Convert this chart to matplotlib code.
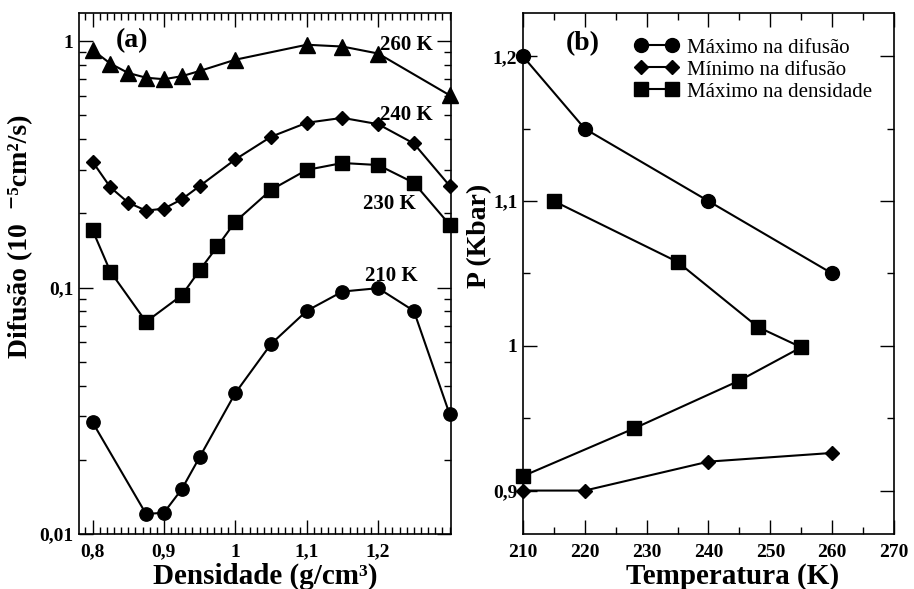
import matplotlib
matplotlib.use("Agg")
import matplotlib.pyplot as plt
from matplotlib.ticker import FixedLocator, MultipleLocator, LogLocator, NullFormatter, FuncFormatter

plt.rcParams['font.family'] = ['Liberation Serif', 'DejaVu Serif']
plt.rcParams['font.weight'] = 'bold'
plt.rcParams['axes.labelweight'] = 'bold'

# (a) difusao x densidade
dens260 = [0.8, 0.825, 0.85, 0.875, 0.9, 0.925, 0.95, 1.0, 1.1, 1.15, 1.2, 1.3]
d260 = [0.92, 0.81, 0.742, 0.71, 0.70, 0.72, 0.756, 0.84, 0.966, 0.95, 0.89, 0.603]

dens240 = [0.8, 0.825, 0.85, 0.875, 0.9, 0.925, 0.95, 1.0, 1.05, 1.1, 1.15, 1.2, 1.25, 1.3]
d240 = [0.324, 0.255, 0.221, 0.205, 0.209, 0.228, 0.258, 0.331, 0.409, 0.466, 0.488, 0.46, 0.384, 0.259]

dens230 = [0.8, 0.825, 0.875, 0.925, 0.95, 0.975, 1.0, 1.05, 1.1, 1.15, 1.2, 1.25, 1.3]
d230 = [0.171, 0.116, 0.0726, 0.093, 0.1175, 0.147, 0.185, 0.249, 0.30, 0.32, 0.314, 0.266, 0.18]

dens210 = [0.8, 0.875, 0.9, 0.925, 0.95, 1.0, 1.05, 1.1, 1.15, 1.2, 1.25, 1.3]
d210 = [0.0284, 0.01205, 0.0122, 0.0152, 0.0205, 0.0373, 0.059, 0.0804, 0.0963, 0.0994, 0.0804, 0.0307]

temp_labels = ['260 K', '240 K', '230 K', '210 K']
temp_label_pos = [(1.203, 0.963), (1.203, 0.50), (1.179, 0.219), (1.181, 0.111)]

# (b) P x T
temp_maxdif = [210, 220, 240, 260]
p_maxdif = [1.2, 1.15, 1.1, 1.05]
temp_mindif = [210, 220, 240, 260]
p_mindif = [0.9, 0.9, 0.92, 0.926]
temp_maxden = [215, 235, 248, 255, 245, 228, 210]
p_maxden = [1.1, 1.058, 1.013, 0.999, 0.976, 0.943, 0.91]

virgula = FuncFormatter(lambda v, pos: ('%g' % v).replace('.', ','))

fig = plt.figure(figsize=(9.14, 5.89), dpi=100)
axa = fig.add_axes([0.0864, 0.0934, 0.407, 0.8846])
axb = fig.add_axes([0.5722, 0.0934, 0.4059, 0.8846])

lw = 1.5
axa.plot(dens260, d260, color='black', lw=lw, marker='^', ms=11.5, clip_on=False)
axa.plot(dens240, d240, color='black', lw=lw, marker='D', ms=7.5, clip_on=False)
axa.plot(dens230, d230, color='black', lw=lw, marker='s', ms=9.4, clip_on=False)
axa.plot(dens210, d210, color='black', lw=lw, marker='o', ms=9.6, clip_on=False)
for t, (x, y) in zip(temp_labels, temp_label_pos):
    axa.text(x, y, t, fontsize=15, ha='left', va='center')

axa.set_yscale('log')
axa.set_xlim(0.781, 1.302)
axa.set_ylim(0.01, 1.3)
axa.xaxis.set_major_locator(FixedLocator([0.8, 0.9, 1.0, 1.1, 1.2]))
axa.xaxis.set_minor_locator(MultipleLocator(0.01))
axa.xaxis.set_major_formatter(virgula)
axa.yaxis.set_major_locator(LogLocator(base=10))
axa.yaxis.set_minor_locator(LogLocator(base=10, subs=range(2, 10)))
axa.yaxis.set_major_formatter(virgula)
axa.yaxis.set_minor_formatter(NullFormatter())
axa.text(0.0995, 0.946, '(a)', transform=axa.transAxes, fontsize=20, va='center')
axa.set_xlabel('Densidade (g/cm³)', fontsize=21)
axa.set_ylabel('Difusão (10  ⁻⁵cm²/s)', fontsize=20)
axa.xaxis.set_label_coords(0.5, -0.0557)
axa.yaxis.set_label_coords(-0.124, 0.572)

axb.plot(temp_maxdif, p_maxdif, color='black', lw=lw, marker='o', ms=10, clip_on=False, label='Máximo na difusão')
axb.plot(temp_mindif, p_mindif, color='black', lw=lw, marker='D', ms=7.5, clip_on=False, label='Mínimo na difusão')
axb.plot(temp_maxden, p_maxden, color='black', lw=lw, marker='s', ms=9.6, clip_on=False, label='Máximo na densidade')
axb.set_xlim(210, 270)
axb.set_ylim(0.87, 1.23)
axb.xaxis.set_major_locator(MultipleLocator(10))
axb.xaxis.set_minor_locator(MultipleLocator(5))
axb.yaxis.set_major_locator(FixedLocator([0.9, 1.0, 1.1, 1.2]))
axb.yaxis.set_minor_locator(FixedLocator([0.95, 1.05, 1.15]))
axb.yaxis.set_major_formatter(virgula)
axb.text(0.116, 0.942, '(b)', transform=axb.transAxes, fontsize=20, va='center')
axb.set_xlabel('Temperatura (K)', fontsize=21)
axb.set_ylabel('P (Kbar)', fontsize=20)
axb.xaxis.set_label_coords(0.566, -0.0557)
axb.yaxis.set_label_coords(-0.0836, 0.572)
axb.legend(loc='upper left', bbox_to_anchor=(0.302, 0.952), frameon=False, numpoints=2,
           handlelength=2.07, handletextpad=0.43, labelspacing=0.12, borderpad=0, borderaxespad=0,
           prop={'weight': 'normal', 'size': 15})

for ax in (axa, axb):
    ax.tick_params(which='both', direction='in', top=True, right=True, width=1, labelsize=14)
    ax.tick_params(which='major', length=10)
    ax.tick_params(which='minor', length=5)
    ax.tick_params(axis='x', pad=7)
    ax.tick_params(axis='y', pad=4)
    for s in ax.spines.values():
        s.set_linewidth(1.2)

fig.savefig('out.png', dpi=100)
